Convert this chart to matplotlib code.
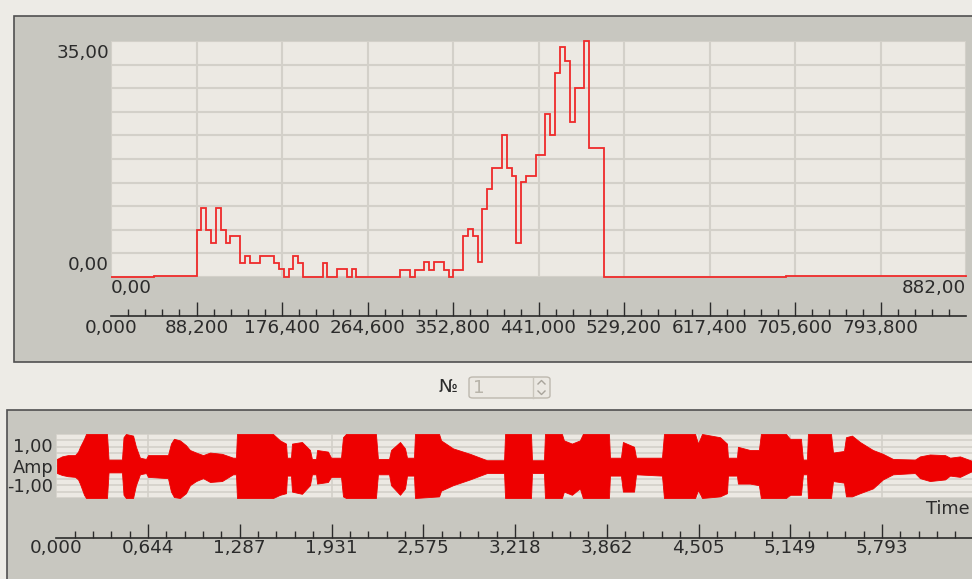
import numpy as np
import matplotlib
matplotlib.use("Agg")
import matplotlib.pyplot as plt
from matplotlib.patches import Rectangle, FancyBboxPatch
from matplotlib.lines import Line2D

# ---- data: upper histogram (step line) ----
pre_edges = [0.0, 44.4, 88.2]
pre_values = [0.0, 0.15]
bin_start = 88.2
bin_width = 5.0
bin_values = [7.0, 10.2, 7.0, 5.0, 10.2, 7.0, 5.0, 6.1, 6.1, 2.1,
              3.1, 2.1, 2.1, 3.1, 3.1, 3.1, 2.1, 1.2, 0.0, 1.2,
              3.1, 2.1, 0.0, 0.0, 0.0, 0.0, 2.1, 0.0, 0.0, 1.2,
              1.2, 0.0, 1.2, 0.0, 0.0, 0.0, 0.0, 0.0, 0.0, 0.0,
              0.0, 0.0, 1.1, 1.1, 0.0, 1.1, 1.1, 2.2, 1.1, 2.2,
              2.2, 1.1, 0.0, 1.1, 1.1, 6.1, 7.1, 6.1, 2.2, 10.1,
              13.0, 16.1, 16.1, 21.0, 16.1, 15.0, 5.1, 14.1, 15.0, 15.0,
              18.1, 18.1, 24.1, 21.0, 30.2, 34.1, 32.1, 23.0, 28.1, 28.1,
              35.0, 19.1, 19.1, 19.1]
post_edges = [508.2, 696.6, 882.0]
post_values = [0.0, 0.15]

sample_ticks = [0, 88200, 176400, 264600, 352800, 441000, 529200, 617400, 705600, 793800]
sample_labels = ["0,000", "88,200", "176,400", "264,600", "352,800",
                 "441,000", "529,200", "617,400", "705,600", "793,800"]

# ---- data: waveform envelope ----
wave_t = [0.005, 0.040, 0.082, 0.132, 0.153, 0.167, 0.195, 0.209, 0.356, 0.367,
          0.461, 0.472, 0.489, 0.539, 0.559, 0.587, 0.630, 0.644, 0.784, 0.805,
          0.826, 0.868, 0.910, 0.938, 0.981, 1.030, 1.079, 1.163, 1.240, 1.261,
          1.268, 1.521, 1.570, 1.612, 1.619, 1.647, 1.654, 1.724, 1.780, 1.794,
          1.823, 1.830, 1.906, 1.928, 1.998, 2.012, 2.033, 2.243, 2.257, 2.335,
          2.349, 2.412, 2.447, 2.461, 2.510, 2.517, 2.686, 2.700, 2.784, 2.903,
          3.022, 3.142, 3.149, 3.331, 3.338, 3.422, 3.429, 3.548, 3.562, 3.618,
          3.674, 3.695, 3.878, 3.885, 3.962, 3.976, 4.054, 4.068, 4.250, 4.264,
          4.482, 4.503, 4.531, 4.657, 4.706, 4.713, 4.776, 4.783, 4.867, 4.930,
          4.944, 5.120, 5.148, 5.225, 5.239, 5.267, 5.274, 5.436, 5.450, 5.527,
          5.541, 5.583, 5.639, 5.730, 5.800, 5.871, 6.025, 6.060, 6.130, 6.236,
          6.271, 6.341, 6.425]
wave_up = [0.22, 0.30, 0.34, 0.34, 0.45, 0.60, 0.85, 1.00, 1.00, 0.20,
           0.20, 0.90, 1.00, 0.95, 0.60, 0.26, 0.22, 0.34, 0.34, 0.70,
           0.85, 0.80, 0.65, 0.50, 0.42, 0.34, 0.42, 0.38, 0.26, 0.26,
           1.00, 1.00, 0.80, 0.70, 0.26, 0.26, 0.70, 0.75, 0.50, 0.22,
           0.22, 0.50, 0.45, 0.26, 0.26, 0.90, 1.00, 1.00, 0.22, 0.22,
           0.50, 0.75, 0.55, 0.26, 0.26, 1.00, 1.00, 0.80, 0.55, 0.38,
           0.18, 0.18, 1.00, 1.00, 0.18, 0.18, 1.00, 1.00, 0.80, 0.70,
           0.80, 1.00, 1.00, 0.26, 0.26, 0.75, 0.60, 0.26, 0.26, 1.00,
           1.00, 0.70, 1.00, 0.90, 0.70, 0.26, 0.26, 0.60, 0.50, 0.50,
           1.00, 1.00, 0.85, 0.85, 0.20, 0.20, 1.00, 1.00, 0.42, 0.47,
           0.90, 0.95, 0.75, 0.50, 0.38, 0.22, 0.20, 0.30, 0.36, 0.34,
           0.26, 0.30, 0.16]
wave_lo = [0.22, 0.28, 0.32, 0.34, 0.42, 0.56, 0.90, 1.00, 1.00, 0.20,
           0.20, 0.90, 1.00, 1.00, 0.60, 0.26, 0.22, 0.34, 0.38, 0.80,
           0.97, 1.00, 0.85, 0.60, 0.47, 0.38, 0.50, 0.47, 0.26, 0.26,
           1.00, 1.00, 0.90, 0.85, 0.30, 0.30, 0.80, 0.87, 0.60, 0.26,
           0.26, 0.55, 0.50, 0.34, 0.34, 0.95, 1.00, 1.00, 0.26, 0.26,
           0.60, 0.90, 0.70, 0.30, 0.30, 1.00, 0.95, 0.77, 0.60, 0.42,
           0.22, 0.22, 1.00, 1.00, 0.22, 0.22, 1.00, 1.00, 0.80, 0.90,
           0.70, 1.00, 1.00, 0.30, 0.30, 0.80, 0.80, 0.26, 0.30, 1.00,
           1.00, 0.75, 1.00, 0.95, 0.85, 0.30, 0.30, 0.55, 0.55, 0.60,
           1.00, 1.00, 0.90, 0.90, 0.26, 0.26, 1.00, 1.00, 0.47, 0.52,
           0.95, 0.95, 0.85, 0.70, 0.42, 0.26, 0.22, 0.38, 0.47, 0.42,
           0.30, 0.34, 0.16]

time_end = 6.4375
time_ticks = [0.0, 0.64375, 1.2875, 1.93125, 2.575, 3.21875, 3.8625, 4.50625, 5.15, 5.79375]
time_labels = ["0,000", "0,644", "1,287", "1,931", "2,575", "3,218", "3,862", "4,505", "5,149", "5,793"]

# ---- layout helpers (pixel -> figure fraction) ----
W, H = 972, 579
def fx(px):
    return px / W
def fy(py):
    return 1 - py / H

BG = "#edebe6"
PANEL = "#c8c7c0"
PLOT = "#ece9e3"
GRID = "#d3d0c9"
TXT = "#2b2b2b"
FS = 13.2

fig = plt.figure(figsize=(W / 100, H / 100), dpi=100, facecolor=BG)

# panels
fig.add_artist(Rectangle((fx(14), fy(362)), 1.0, (362 - 16) / H, transform=fig.transFigure,
                         facecolor=PANEL, edgecolor="#505050", lw=1.2, zorder=-5))
fig.add_artist(Rectangle((fx(7), fy(600)), 1.0, (600 - 410) / H, transform=fig.transFigure,
                         facecolor=PANEL, edgecolor="#505050", lw=1.2, zorder=-5))

# ---- top histogram ----
edges = np.concatenate([pre_edges[:-1], bin_start + bin_width * np.arange(len(bin_values) + 1),
                        post_edges[1:]])
values = np.concatenate([pre_values, bin_values, post_values])

ax = fig.add_axes([fx(111), fy(277), (966 - 111) / W, (277 - 41) / H])
ax.set_facecolor(PLOT)
ax.stairs(values, edges, color="#ef2a2a", lw=1.3, clip_on=False, zorder=3)
ax.set_xlim(0, 882)
ax.set_ylim(0, 35)
ax.set_xticks(np.arange(0, 883, 88.2))
ax.set_yticks(np.arange(0, 35.1, 3.5))
ax.tick_params(length=0, labelbottom=False, labelleft=False)
ax.grid(True, color=GRID, lw=1.5)
ax.set_axisbelow(True)
for s in ax.spines.values():
    s.set_visible(False)

fig.text(fx(109), fy(53), "35,00", ha="right", va="center", fontsize=FS, color=TXT)
fig.text(fx(109), fy(265), "0,00", ha="right", va="center", fontsize=FS, color=TXT)
fig.text(fx(111), fy(288), "0,00", ha="left", va="center", fontsize=FS, color=TXT)
fig.text(fx(966), fy(288), "882,00", ha="right", va="center", fontsize=FS, color=TXT)

# sample axis
axs = fig.add_axes([fx(111), fy(316), (966 - 111) / W, 0.0001])
axs.set_xlim(0, 882000)
axs.set_yticks([])
for k in ["top", "left", "right"]:
    axs.spines[k].set_visible(False)
axs.spines["bottom"].set_color(TXT)
axs.spines["bottom"].set_linewidth(1.2)
axs.set_xticks(sample_ticks, sample_labels)
axs.set_xticks([v for v in np.arange(17640, 882000, 17640) if v % 88200 > 1], minor=True)
axs.tick_params(axis="x", which="major", direction="in", length=10, width=1, colors=TXT,
                labelsize=FS, pad=2)
axs.tick_params(axis="x", which="minor", direction="in", length=5, width=1, colors=TXT)
axs.xaxis.get_major_ticks()[0].tick1line.set_visible(False)
axs.patch.set_visible(False)

# ---- spin box ----
fig.text(fx(448), fy(387), "\u2116", ha="center", va="center", fontsize=FS, color=TXT)
fig.add_artist(FancyBboxPatch((fx(469), fy(398)), (550 - 469) / W, (398 - 377) / H,
                              boxstyle="round,pad=0,rounding_size=0.004",
                              transform=fig.transFigure, facecolor="#ebe8e2",
                              edgecolor="#bdb8ae", lw=1.0))
fig.add_artist(Line2D([fx(533), fx(533)], [fy(377), fy(398)], transform=fig.transFigure,
                      color="#c9c5bc", lw=1.0))
fig.text(fx(479), fy(388), "1", ha="center", va="center", fontsize=FS, color="#b8b4aa")
fig.add_artist(Line2D([fx(538), fx(541.5), fx(545)], [fy(384), fy(380.5), fy(384)],
                      transform=fig.transFigure, color="#a8a49b", lw=1.0))
fig.add_artist(Line2D([fx(538), fx(541.5), fx(545)], [fy(391), fy(394.5), fy(391)],
                      transform=fig.transFigure, color="#a8a49b", lw=1.0))

# ---- waveform ----
axw = fig.add_axes([fx(56.25), fy(498), 917.5 / W, 64 / H])
axw.set_facecolor(PLOT)
axw.fill_between(wave_t, wave_up, -np.array(wave_lo), color="#ee0000", lw=0.6,
                 edgecolor="#ee0000", zorder=3)
axw.set_xlim(0, time_end)
axw.set_ylim(-1, 1)
axw.set_xticks(time_ticks)
axw.set_yticks(np.linspace(-1, 1, 11))
axw.tick_params(length=0, labelbottom=False, labelleft=False)
axw.grid(True, color=GRID, lw=1.2)
axw.set_axisbelow(True)
for s in axw.spines.values():
    s.set_visible(False)

fig.text(fx(53), fy(447), "1,00", ha="right", va="center", fontsize=FS - 0.4, color=TXT)
fig.text(fx(53), fy(468), "Amp", ha="right", va="center", fontsize=FS - 0.4, color=TXT)
fig.text(fx(53), fy(487), "-1,00", ha="right", va="center", fontsize=FS - 0.4, color=TXT)
fig.text(fx(970), fy(509), "Time", ha="right", va="center", fontsize=FS - 0.4, color=TXT)

# time axis
axt = fig.add_axes([fx(56.25), fy(538), 917.5 / W, 0.0001])
axt.set_xlim(0, time_end)
axt.set_yticks([])
for k in ["top", "left", "right"]:
    axt.spines[k].set_visible(False)
axt.spines["bottom"].set_color(TXT)
axt.spines["bottom"].set_linewidth(1.2)
axt.set_xticks(time_ticks, time_labels)
minor_t = [i * 0.12875 for i in range(1, 50) if i % 5 != 0]
axt.set_xticks(minor_t, minor=True)
axt.tick_params(axis="x", which="major", direction="in", length=10, width=1, colors=TXT,
                labelsize=FS, pad=1)
axt.tick_params(axis="x", which="minor", direction="in", length=5, width=1, colors=TXT)
axt.xaxis.get_major_ticks()[0].tick1line.set_visible(False)
axt.patch.set_visible(False)

fig.savefig("out.png", dpi=100, facecolor=BG)
